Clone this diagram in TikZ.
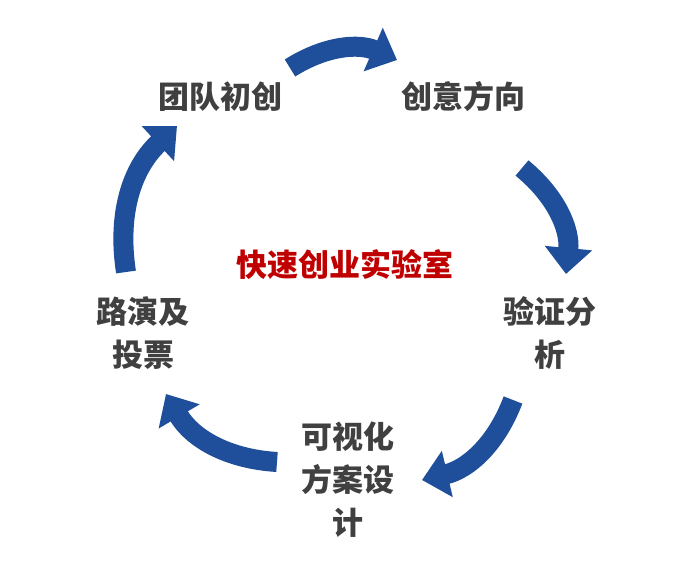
\documentclass[tikz,border=0pt]{standalone}
\usepackage{fontspec}
\newfontfamily\cjk{Noto Sans CJK SC}
\usetikzlibrary{arrows.meta}
\definecolor{arrblue}{HTML}{1F4E9A}
\definecolor{txt}{HTML}{404040}
\definecolor{redt}{HTML}{C00000}
\tikzset{
  lbl/.style={font=\cjk\bfseries\fontsize{31}{43}\selectfont, text=txt, align=center, inner sep=0pt},
  cyc/.style={draw=arrblue, line width=20pt, -{Triangle[length=26pt,width=46pt]}, bend left=28}
}
\begin{document}
\begin{tikzpicture}[x=1pt,y=-1pt]
\useasboundingbox[fill=white] (0,0) rectangle (685,570);
\node[lbl] (l1) at (220,97) {团队初创};
\node[lbl] (l2) at (463,97) {创意方向};
\node[lbl] (l3) at (550,333) {验证分\\析};
\node[lbl] (l4) at (348,480) {可视化\\方案设\\计};
\node[lbl] (l5) at (143,333) {路演及\\投票};
\node[lbl, text=redt] (c) at (345,265) {快速创业实验室};
\coordinate (a1s) at (290,68); \coordinate (a1e) at (397,60);
\coordinate (a2s) at (522,168); \coordinate (a2e) at (566,274);
\coordinate (a3s) at (513,400); \coordinate (a3e) at (422,480);
\coordinate (a4s) at (277,462); \coordinate (a4e) at (166,394);
\coordinate (a5s) at (126,272); \coordinate (a5e) at (177,126);
\draw[cyc] (a1s) to (a1e);
\draw[cyc] (a2s) to (a2e);
\draw[cyc] (a3s) to (a3e);
\draw[cyc] (a4s) to (a4e);
\draw[cyc] (a5s) to (a5e);
\end{tikzpicture}
\end{document}
